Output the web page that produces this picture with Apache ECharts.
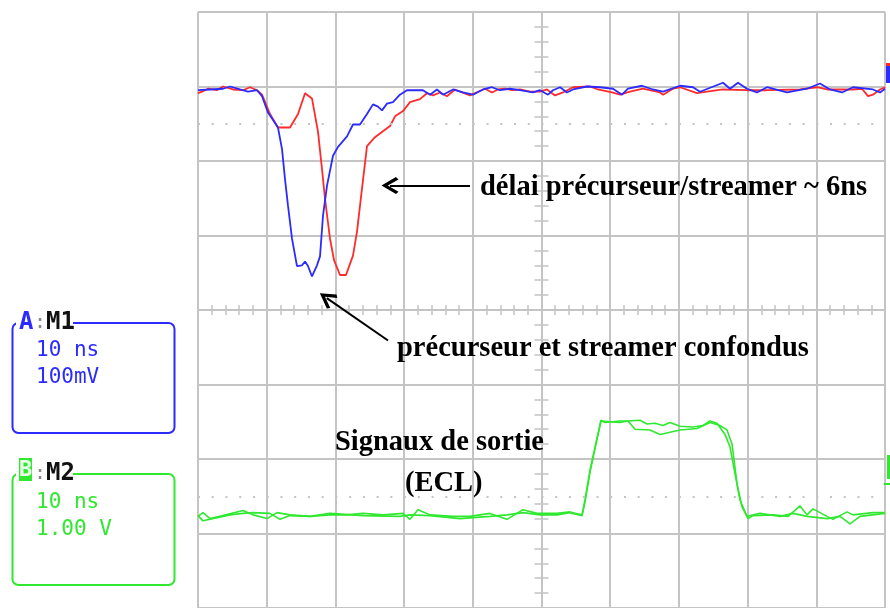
<!DOCTYPE html>
<html>
<head>
<meta charset="utf-8">
<script src="https://cdn.jsdelivr.net/npm/echarts@6/dist/echarts.min.js"></script>
<style>
  html, body { margin: 0; padding: 0; background: #fff; }
  #scope { width: 890px; height: 608px; }
</style>
</head>
<body>
<div id="scope"></div>
<script>
// time in ns (10 ns/div), amplitude in screen divisions
const timeRange = [-50, 50];
const divRange = [-4, 4];
const refLevels = [2.5, -2.5];

// channel A, first shot (blue): precursor and streamer merged
const blueTrace = [
  [-50.0, 2.95], [-48.25, 2.96], [-46.36, 2.97], [-45.34, 3.00], [-43.89, 2.96], [-42.72, 2.93],
  [-41.41, 2.95], [-40.68, 2.87], [-39.81, 2.65], [-39.08, 2.55], [-38.36, 2.45], [-37.77, 2.16],
  [-37.34, 1.76], [-36.90, 1.40], [-36.32, 0.96], [-35.59, 0.59], [-34.86, 0.60], [-34.42, 0.65],
  [-33.99, 0.59], [-33.41, 0.45], [-32.68, 0.60], [-32.24, 0.72], [-31.80, 1.27], [-31.22, 1.67],
  [-30.35, 2.07], [-29.62, 2.19], [-28.31, 2.33], [-27.44, 2.49], [-26.42, 2.49], [-25.40, 2.63],
  [-24.53, 2.76], [-23.80, 2.73], [-23.22, 2.68], [-22.49, 2.77], [-21.62, 2.79], [-20.60, 2.89],
  [-19.58, 2.95], [-17.25, 2.95], [-16.23, 2.89], [-15.21, 2.96], [-14.34, 2.89], [-12.88, 2.96],
  [-11.43, 2.92], [-9.97, 2.89], [-8.52, 2.96], [-7.21, 2.99], [-6.04, 2.95], [-4.59, 2.97],
  [-3.13, 2.95], [-1.24, 2.92], [-0.22, 2.95], [0.95, 2.89], [1.67, 2.95], [2.70, 2.99],
  [3.71, 2.92], [4.59, 2.96], [6.62, 3.00], [8.52, 2.99], [10.41, 2.97], [11.72, 2.89],
  [12.59, 2.97], [14.63, 3.01], [16.23, 2.96], [17.69, 2.93], [20.16, 3.01], [22.05, 2.99],
  [23.07, 2.93], [26.42, 3.05], [27.44, 2.97], [28.60, 3.05], [29.91, 2.97], [31.37, 2.92],
  [32.82, 2.99], [35.73, 2.92], [38.65, 2.97], [40.54, 3.04], [41.99, 2.96], [43.74, 2.92],
  [45.34, 2.99], [48.25, 2.96], [49.27, 2.92], [50.0, 2.97]
];

// channel A, second shot (red): precursor then streamer ~6 ns later
const redTrace = [
  [-50.0, 2.91], [-49.42, 2.93], [-48.54, 2.97], [-47.23, 2.95], [-46.36, 3.00], [-44.90, 2.96],
  [-43.45, 2.95], [-42.43, 2.99], [-41.41, 2.95], [-40.68, 2.89], [-39.52, 2.63], [-38.36, 2.45],
  [-36.61, 2.45], [-35.44, 2.63], [-34.42, 2.91], [-33.41, 2.84], [-32.53, 2.39], [-31.95, 1.89],
  [-31.51, 1.49], [-30.79, 0.96], [-30.20, 0.67], [-29.33, 0.47], [-28.46, 0.47], [-27.44, 0.73],
  [-26.86, 1.05], [-26.13, 1.63], [-25.40, 2.20], [-24.24, 2.32], [-23.22, 2.39], [-22.05, 2.47],
  [-21.32, 2.60], [-20.16, 2.67], [-19.14, 2.79], [-17.69, 2.83], [-16.67, 2.91], [-15.79, 2.88],
  [-14.77, 2.92], [-13.76, 2.87], [-12.59, 2.96], [-11.57, 2.92], [-10.41, 2.88], [-9.24, 2.93],
  [-8.22, 2.97], [-7.21, 2.92], [-6.33, 2.96], [-5.31, 2.97], [-4.29, 2.95], [-3.13, 2.96],
  [-1.67, 2.93], [-0.22, 2.93], [0.80, 2.96], [1.97, 2.88], [3.13, 2.92], [4.59, 2.99],
  [7.06, 3.00], [8.22, 2.96], [10.26, 2.92], [11.43, 2.89], [12.88, 2.93], [14.77, 2.97],
  [17.25, 2.92], [17.69, 2.89], [19.14, 2.97], [20.16, 2.99], [22.63, 2.91], [24.09, 2.93],
  [26.42, 2.96], [29.91, 2.95], [32.82, 2.95], [37.63, 2.96], [40.10, 2.99], [41.56, 2.96],
  [45.34, 2.96], [46.65, 2.97], [47.53, 2.87], [48.25, 2.89], [49.27, 2.96], [50.0, 2.99]
];

// channel B: ECL output pulses, two shots
const greenTraceA = [
  [-50.0, -2.77], [-49.27, -2.72], [-48.25, -2.80], [-46.36, -2.76], [-43.45, -2.69], [-41.99, -2.75],
  [-39.95, -2.80], [-38.50, -2.72], [-36.61, -2.75], [-33.70, -2.77], [-30.79, -2.75], [-28.31, -2.75],
  [-25.98, -2.73], [-23.07, -2.75], [-20.16, -2.73], [-19.14, -2.81], [-17.98, -2.68], [-16.23, -2.75],
  [-12.88, -2.77], [-10.41, -2.77], [-7.50, -2.73], [-5.02, -2.81], [-2.69, -2.68], [-0.66, -2.73],
  [2.26, -2.73], [4.15, -2.71], [4.88, -2.73], [5.90, -2.75], [6.33, -2.55], [7.06, -2.15],
  [7.79, -1.84], [8.66, -1.48], [9.24, -1.51], [11.43, -1.49], [12.59, -1.49], [13.61, -1.60],
  [15.79, -1.61], [17.25, -1.67], [20.16, -1.61], [22.63, -1.59], [24.53, -1.51], [25.98, -1.55],
  [27.00, -1.61], [27.73, -1.80], [28.46, -2.33], [29.18, -2.64], [30.06, -2.80], [30.79, -2.76],
  [33.70, -2.75], [35.88, -2.77], [37.63, -2.63], [38.65, -2.75], [39.52, -2.67], [41.56, -2.77],
  [42.43, -2.81], [44.47, -2.71], [45.34, -2.75], [48.25, -2.72], [50.0, -2.72]
];

const greenTraceB = [
  [-50.0, -2.76], [-49.27, -2.83], [-46.36, -2.77], [-45.34, -2.75], [-43.45, -2.73], [-41.99, -2.72],
  [-39.52, -2.73], [-38.06, -2.81], [-36.61, -2.76], [-33.70, -2.77], [-30.79, -2.73], [-25.98, -2.76],
  [-20.60, -2.77], [-19.14, -2.75], [-16.23, -2.76], [-11.86, -2.80], [-7.50, -2.77], [-5.02, -2.75],
  [-2.69, -2.72], [-0.22, -2.75], [2.26, -2.75], [4.15, -2.72], [5.90, -2.76], [6.33, -2.58],
  [7.06, -2.18], [7.79, -1.86], [8.66, -1.49], [11.43, -1.51], [12.59, -1.49], [14.34, -1.48],
  [15.36, -1.53], [16.52, -1.52], [17.69, -1.55], [18.70, -1.51], [20.16, -1.56], [22.05, -1.57],
  [23.51, -1.55], [24.53, -1.49], [25.55, -1.52], [26.71, -1.67], [27.44, -1.84], [28.17, -2.20],
  [28.89, -2.55], [29.91, -2.77], [31.80, -2.73], [34.72, -2.77], [36.61, -2.73], [38.65, -2.77],
  [41.56, -2.80], [43.45, -2.77], [44.91, -2.87], [46.36, -2.77], [50.0, -2.73]
];

// annotation arrows, [from, to] in (ns, div)
const delayArrow = [[-10.41, 1.67], [-22.05, 1.67]];
const mergedArrow = [[-22.34, -0.41], [-31.25, 0.16]];

const GRID = "#c4c4c4";
const BLUE = "#2b2bff";
const RED = "#ff2b2b";
const GREEN = "#2fe82f";
// open arrow head, tip up (echarts rotates it along the line)
const chevron = "path://M50,0 L100,78 L86,92 L50,34 L14,92 L0,78 Z";
const NOTE_FONT = 'bold 28.5px "Liberation Serif"';

const chart = echarts.init(document.getElementById("scope"));

const centerX = (position) => ({
  type: "value", min: timeRange[0], max: timeRange[1], interval: 2, position: position,
  axisLine: { show: false, onZero: true, onZeroAxisIndex: 0 },
  axisTick: { show: true, length: 5, lineStyle: { color: GRID, width: 1.5 } },
  axisLabel: { show: false }, splitLine: { show: false }
});
const centerY = (position) => ({
  type: "value", min: divRange[0], max: divRange[1], interval: 0.2, position: position,
  axisLine: { show: false, onZero: true, onZeroAxisIndex: 0 },
  axisTick: { show: true, length: 7, lineStyle: { color: GRID, width: 1.5 } },
  axisLabel: { show: false }, splitLine: { show: false }
});

const arrowLine = (pts) => [{ coord: pts[0] }, { coord: pts[1] }];
const note = (text, left, top) => ({
  type: "text", left: left, top: top, z: 100,
  style: { text: text, fill: "#000", font: NOTE_FONT }
});
const label = (text, x, y, color, font) => ({
  type: "text", x: x, y: y, z: 100,
  style: { text: text, fill: color, font: font, verticalAlign: "middle" }
});

const options = {
  animation: false,
  grid: { left: 198, top: 12, width: 687, height: 600 },
  xAxis: [
    {
      type: "value", min: timeRange[0], max: timeRange[1], interval: 10,
      axisLine: { show: false, onZero: false }, axisTick: { show: false }, axisLabel: { show: false },
      splitLine: { show: true, lineStyle: { color: GRID, width: 2 } }
    },
    centerX("bottom"),
    centerX("top")
  ],
  yAxis: [
    {
      type: "value", min: divRange[0], max: divRange[1], interval: 1,
      axisLine: { show: false, onZero: false }, axisTick: { show: false }, axisLabel: { show: false },
      splitLine: { show: true, lineStyle: { color: GRID, width: 2 } }
    },
    centerY("left"),
    centerY("right")
  ],
  series: [
    {
      name: "ref", type: "line", data: [], silent: true,
      markLine: {
        silent: true, symbol: "none", label: { show: false },
        lineStyle: { color: GRID, width: 2, type: [2, 11.74] },
        data: refLevels.map(v => ({ yAxis: v }))
      }
    },
    {
      name: "A2", type: "line", data: redTrace, showSymbol: false,
      lineStyle: { color: RED, width: 1.8 }, itemStyle: { color: RED }
    },
    {
      name: "A1", type: "line", data: blueTrace, showSymbol: false,
      lineStyle: { color: BLUE, width: 1.8 }, itemStyle: { color: BLUE }
    },
    {
      name: "B1", type: "line", data: greenTraceA, showSymbol: false,
      lineStyle: { color: GREEN, width: 1.6 }, itemStyle: { color: GREEN }
    },
    {
      name: "B2", type: "line", data: greenTraceB, showSymbol: false,
      lineStyle: { color: GREEN, width: 1.6 }, itemStyle: { color: GREEN },
      markLine: {
        silent: true, label: { show: false },
        symbol: ["none", chevron], symbolSize: [17, 17],
        lineStyle: { color: "#000", width: 2, type: "solid" },
        itemStyle: { color: "#000" },
        data: [arrowLine(delayArrow), arrowLine(mergedArrow)]
      }
    }
  ],
  graphic: [
    // annotation texts
    note("délai précurseur/streamer ~ 6ns", 480, 173),
    note("précurseur et streamer confondus", 397, 334),
    note("Signaux de sortie", 335, 428),
    note("(ECL)", 405, 469),
    // channel A info box
    {
      type: "rect", z: 90, shape: { x: 12.5, y: 323, width: 162, height: 110, r: 6 },
      style: { fill: "none", stroke: BLUE, lineWidth: 2 }
    },
    { type: "rect", z: 95, shape: { x: 16, y: 315, width: 57, height: 16 }, style: { fill: "#fff" } },
    label("A", 19, 323, BLUE, 'bold 24px "DejaVu Sans Mono"'),
    label(":", 34, 323, "#888", '20px "DejaVu Sans Mono"'),
    label("M1", 46, 323, "#111", 'bold 24px "DejaVu Sans Mono"'),
    label("10 ns", 36, 351, BLUE, '21px "DejaVu Sans Mono"'),
    label("100mV", 36, 378, BLUE, '21px "DejaVu Sans Mono"'),
    // channel B info box
    {
      type: "rect", z: 90, shape: { x: 12.5, y: 474, width: 162, height: 111, r: 6 },
      style: { fill: "none", stroke: GREEN, lineWidth: 2 }
    },
    { type: "rect", z: 95, shape: { x: 16, y: 466, width: 57, height: 16 }, style: { fill: "#fff" } },
    { type: "rect", z: 96, shape: { x: 19, y: 458, width: 13, height: 23 }, style: { fill: GREEN } },
    label("B", 19, 470, "#eaffea", 'bold 22px "DejaVu Sans Mono"'),
    label(":", 34, 474, "#888", '20px "DejaVu Sans Mono"'),
    label("M2", 46, 474, "#111", 'bold 24px "DejaVu Sans Mono"'),
    label("10 ns", 36, 503, GREEN, '21px "DejaVu Sans Mono"'),
    label("1.00 V", 36, 530, GREEN, '21px "DejaVu Sans Mono"'),
    // channel level markers at the right edge
    { type: "rect", z: 90, shape: { x: 886, y: 63, width: 4, height: 20 }, style: { fill: BLUE } },
    { type: "rect", z: 91, shape: { x: 886, y: 63, width: 4, height: 3 }, style: { fill: RED } },
    { type: "rect", z: 90, shape: { x: 887, y: 455, width: 3, height: 24 }, style: { fill: GREEN } },
    { type: "rect", z: 90, shape: { x: 884, y: 483, width: 6, height: 2 }, style: { fill: GREEN } }
  ]
};

chart.setOption(options);
</script>
</body>
</html>
